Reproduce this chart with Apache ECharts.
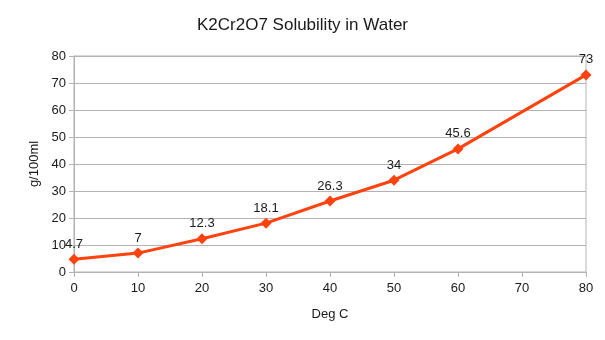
<!DOCTYPE html>
<html><head><meta charset="utf-8">
<script src="https://cdn.jsdelivr.net/npm/echarts@6/dist/echarts.min.js"></script>
<style>html,body{margin:0;padding:0;background:#fff}#c{width:605px;height:340px}</style>
</head><body><div id="c"></div>
<script>
var temps = [0, 10, 20, 30, 40, 50, 60, 80];
var solubility = [4.7, 7, 12.3, 18.1, 26.3, 34, 45.6, 73];
var titleText = 'K2Cr2O7 Solubility in Water';
var xName = 'Deg C', yName = 'g/100ml';
var points = temps.map(function(t, i){ return [t, solubility[i]]; });
var font = '"Liberation Sans", Arial, sans-serif';
var chart = echarts.init(document.getElementById('c'), null, {renderer:'canvas'});
chart.setOption({
  animation:false,
  title:{text:titleText,left:'center',top:12,textStyle:{fontFamily:font,fontSize:17,fontWeight:'normal',color:'#1a1a1a'}},
  grid:{left:74,right:19,top:56,bottom:68,show:true,borderColor:'#b3b3b3',borderWidth:1},
  xAxis:{type:'value',min:0,max:80,interval:10,name:xName,nameLocation:'middle',nameGap:36,
    nameTextStyle:{fontFamily:font,fontSize:13,color:'#1a1a1a'},
    axisLine:{show:true,lineStyle:{color:'#b3b3b3'}},
    axisTick:{show:true,length:5,lineStyle:{color:'#b3b3b3'}},
    splitLine:{show:false},
    axisLabel:{fontFamily:font,fontSize:13,color:'#1a1a1a',margin:10}},
  yAxis:{type:'value',min:0,max:80,interval:10,name:yName,nameLocation:'middle',nameGap:27,
    nameTextStyle:{fontFamily:font,fontSize:13,color:'#1a1a1a'},
    axisLine:{show:true,lineStyle:{color:'#b3b3b3'}},
    axisTick:{show:true,length:5,lineStyle:{color:'#b3b3b3'}},
    splitLine:{show:true,lineStyle:{color:'#b3b3b3'}},
    axisLabel:{fontFamily:font,fontSize:13,color:'#1a1a1a',margin:8}},
  series:[{type:'line',data:points,symbol:'diamond',symbolSize:11,
    lineStyle:{color:'#ff420e',width:3},itemStyle:{color:'#ff420e'},
    label:{show:true,position:'top',distance:3,fontFamily:font,fontSize:13,color:'#1a1a1a'}}]
});
</script></body></html>
